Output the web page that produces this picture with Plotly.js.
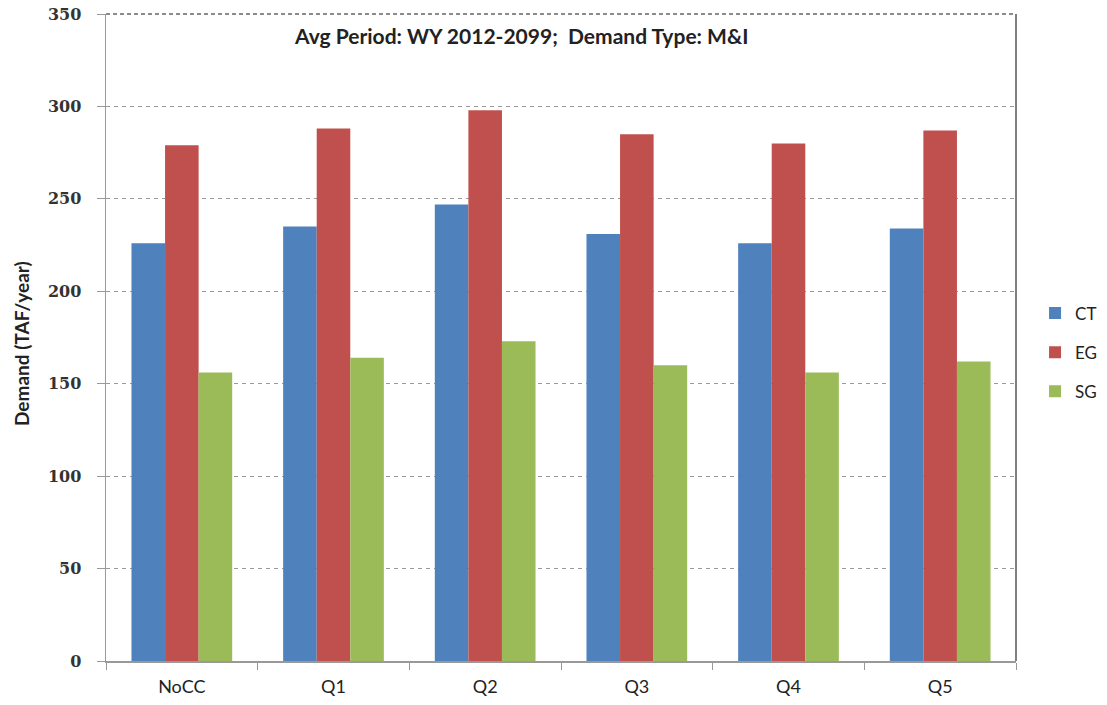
<!DOCTYPE html>
<html>
<head>
<meta charset="utf-8">
<script src="https://cdn.plot.ly/plotly-3.0.1.min.js"></script>
<style>html,body{margin:0;padding:0;background:#fff;}#chart{width:1107px;height:705px;}</style>
</head>
<body>
<div id="chart"></div>
<script>
const categories = ["NoCC", "Q1", "Q2", "Q3", "Q4", "Q5"];
const seriesNames = ["CT", "EG", "SG"];
const ctValues = [226, 235, 247, 231, 226, 234];
const egValues = [279, 288, 298, 285, 280, 287];
const sgValues = [156, 164, 173, 160, 156, 162];
const yTicks = [0, 50, 100, 150, 200, 250, 300, 350];
const colors = ["#4F81BD", "#C0504D", "#9BBB59"];
const titleText = "Avg Period: WY 2012-2099;&nbsp;&nbsp;Demand Type: M&amp;I";
const yTitle = "Demand (TAF/year)";

const values = [ctValues, egValues, sgValues];
const traces = seriesNames.map((name, i) => ({
  type: "bar",
  name: name,
  x: categories,
  y: values[i],
  legendgroup: name,
  marker: {color: colors[i]},
  hoverinfo: "x+y+name"
}));

const layout = {
  width: 1107, height: 705,
  margin: {l: 106, r: 91, t: 14, b: 44, autoexpand: false},
  paper_bgcolor: "#ffffff",
  plot_bgcolor: "#ffffff",
  barmode: "group",
  bargap: 0.336,
  bargroupgap: 0,
  showlegend: true,
  legend: {
    xref: "container", x: 0.935, xanchor: "left",
    yref: "container", y: 0.5, yanchor: "middle",
    font: {family: "Lato, 'Open Sans', sans-serif", size: 17, color: "#222"},
    traceorder: "grouped", tracegroupgap: 14,
    itemwidth: 30, bgcolor: "rgba(0,0,0,0)"
  },
  font: {family: "Lato, 'Open Sans', sans-serif", color: "#222"},
  xaxis: {
    type: "category",
    tickson: "boundaries",
    ticks: "outside", ticklen: 7, tickcolor: "#999",
    showline: true, linecolor: "#999", linewidth: 1.5,
    showgrid: false,
    tickfont: {family: "Lato, 'Open Sans', sans-serif", size: 18, color: "#222"},
    ticklabelstandoff: 9
  },
  yaxis: {
    range: [0, 350],
    tickvals: yTicks,
    ticks: "outside", ticklen: 8, tickcolor: "#999",
    showline: true, linecolor: "#999", linewidth: 1.5,
    showgrid: true, gridcolor: "#9a9a9a", griddash: "4px,4px", gridwidth: 1,
    zeroline: false,
    tickfont: {family: "'DejaVu Serif', serif", size: 16, color: "#333", weight: "bold"},
    ticklabelstandoff: 12
  },
  shapes: [
    {type: "line", xref: "paper", yref: "paper", x0: 1, x1: 1, y0: 0, y1: 1,
     line: {color: "#555", width: 1.5}},
    {type: "line", xref: "paper", yref: "paper", x0: 0, x1: 1, y0: 1, y1: 1,
     line: {color: "#666", width: 1.5, dash: "4px,3px"}}
  ],
  annotations: [
    {text: "<b>" + titleText + "</b>", xref: "paper", yref: "paper",
     x: 0.456, y: 0.966, xanchor: "center", yanchor: "middle", showarrow: false,
     font: {family: "Lato, 'Open Sans', sans-serif", size: 21, color: "#222"}},
    {text: "<b>" + yTitle + "</b>", xref: "paper", yref: "paper",
     x: -0.0923, y: 0.49, xanchor: "center", yanchor: "middle", showarrow: false,
     textangle: -90,
     font: {family: "Lato, 'Open Sans', sans-serif", size: 19, color: "#222"}}
  ]
};

Plotly.newPlot("chart", traces, layout, {displayModeBar: false, staticPlot: true});
</script>
</body>
</html>
